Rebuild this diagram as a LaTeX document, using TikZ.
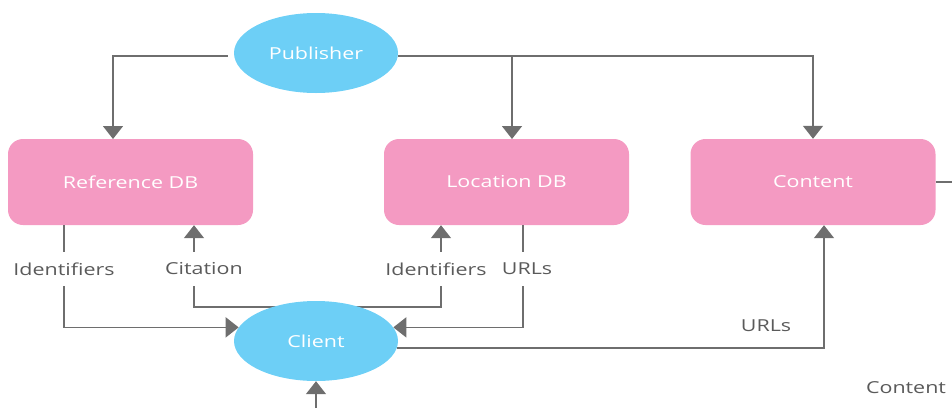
\documentclass[tikz,border=0pt]{standalone}
\usepackage{fontspec}
\setmainfont{Open Sans}[FakeStretch=1.3]
\usepackage{tikz}
\usetikzlibrary{arrows.meta,shapes.geometric}
\definecolor{partyblue}{HTML}{6DCFF6}
\definecolor{storepink}{HTML}{F49AC2}
\definecolor{linegray}{HTML}{6E6E6E}
\definecolor{labelgray}{HTML}{5A5A5A}

\begin{document}
\begin{tikzpicture}[x=1pt,y=-1pt,
  party/.style={ellipse,fill=partyblue,text=white,minimum width=164pt,minimum height=80pt,inner sep=0pt,font=\fontsize{16.5}{18}\selectfont},
  store/.style={rectangle,rounded corners=15pt,fill=storepink,text=white,minimum width=245pt,minimum height=86pt,font=\fontsize{16.5}{18}\selectfont},
  tag/.style={text=labelgray,inner sep=0pt,minimum height=34pt,font=\fontsize{16.5}{18}\selectfont},
  link/.style={draw=linegray,line width=1.6pt},
  feed/.style={link,-{Triangle[width=20pt,length=13pt]}}]
  \useasboundingbox (0,0) rectangle (952,408);
  \node[party] (pub) at (316,53) {Publisher};
  \node[store] (ref) at (130.5,182) {Reference DB};
  \node[store] (loc) at (506.5,182) {Location DB};
  \node[store] (cont) at (813,182) {Content};
  \node[tag] (idref) at (64,269) {Identifiers};
  \node[tag] (cit) at (204,269) {Citation};
  \node[tag] (idloc) at (436,269) {Identifiers};
  \node[tag] (urlloc) at (527,269) {URLs};
  \node[tag] (urlcont) at (766,326) {URLs};
  \node[tag] (contout) at (906,388) {Content};
  \coordinate (refin) at (113,139);
  \coordinate (locin) at (512,139);
  \coordinate (citx) at (194,269);
  \coordinate (idlx) at (441,269);
  \coordinate (urlx) at (523,269);
  \coordinate (lookup) at (316,307);
  \coordinate (contx) at (824,182);
  \coordinate (exit) at (952,182);
  \coordinate (entry) at (316,408);
  \draw[link] (citx |- cit.south) -- (citx |- lookup) -- (idlx |- lookup) -- (idlx |- idloc.south);
  \node[party] (cli) at (316,341) {Client};
  \draw[feed] ([shift={(-6pt,-3pt)}]pub.west) -| (refin);
  \draw[feed] ([yshift=-3pt]pub.east) -| (locin);
  \draw[feed] ([yshift=-3pt]pub.east) -| (cont.north);
  \draw[link] (idref.north |- ref.south) -- (idref.north);
  \draw[feed] (idref.south) |- (cli.170);
  \draw[feed] (citx |- cit.north) -- (citx |- ref.south);
  \draw[feed] (idlx |- idloc.north) -- (idlx |- loc.south);
  \draw[link] (urlx |- loc.south) -- (urlx |- urlloc.north);
  \draw[feed] (urlx |- urlloc.south) |- (cli.10);
  \draw[feed] (cli.-5) -| (contx |- cont.south);
  \draw[link] (cont.east) -- (exit);
  \draw[feed] (entry) -- (cli.south);
\end{tikzpicture}
\end{document}
